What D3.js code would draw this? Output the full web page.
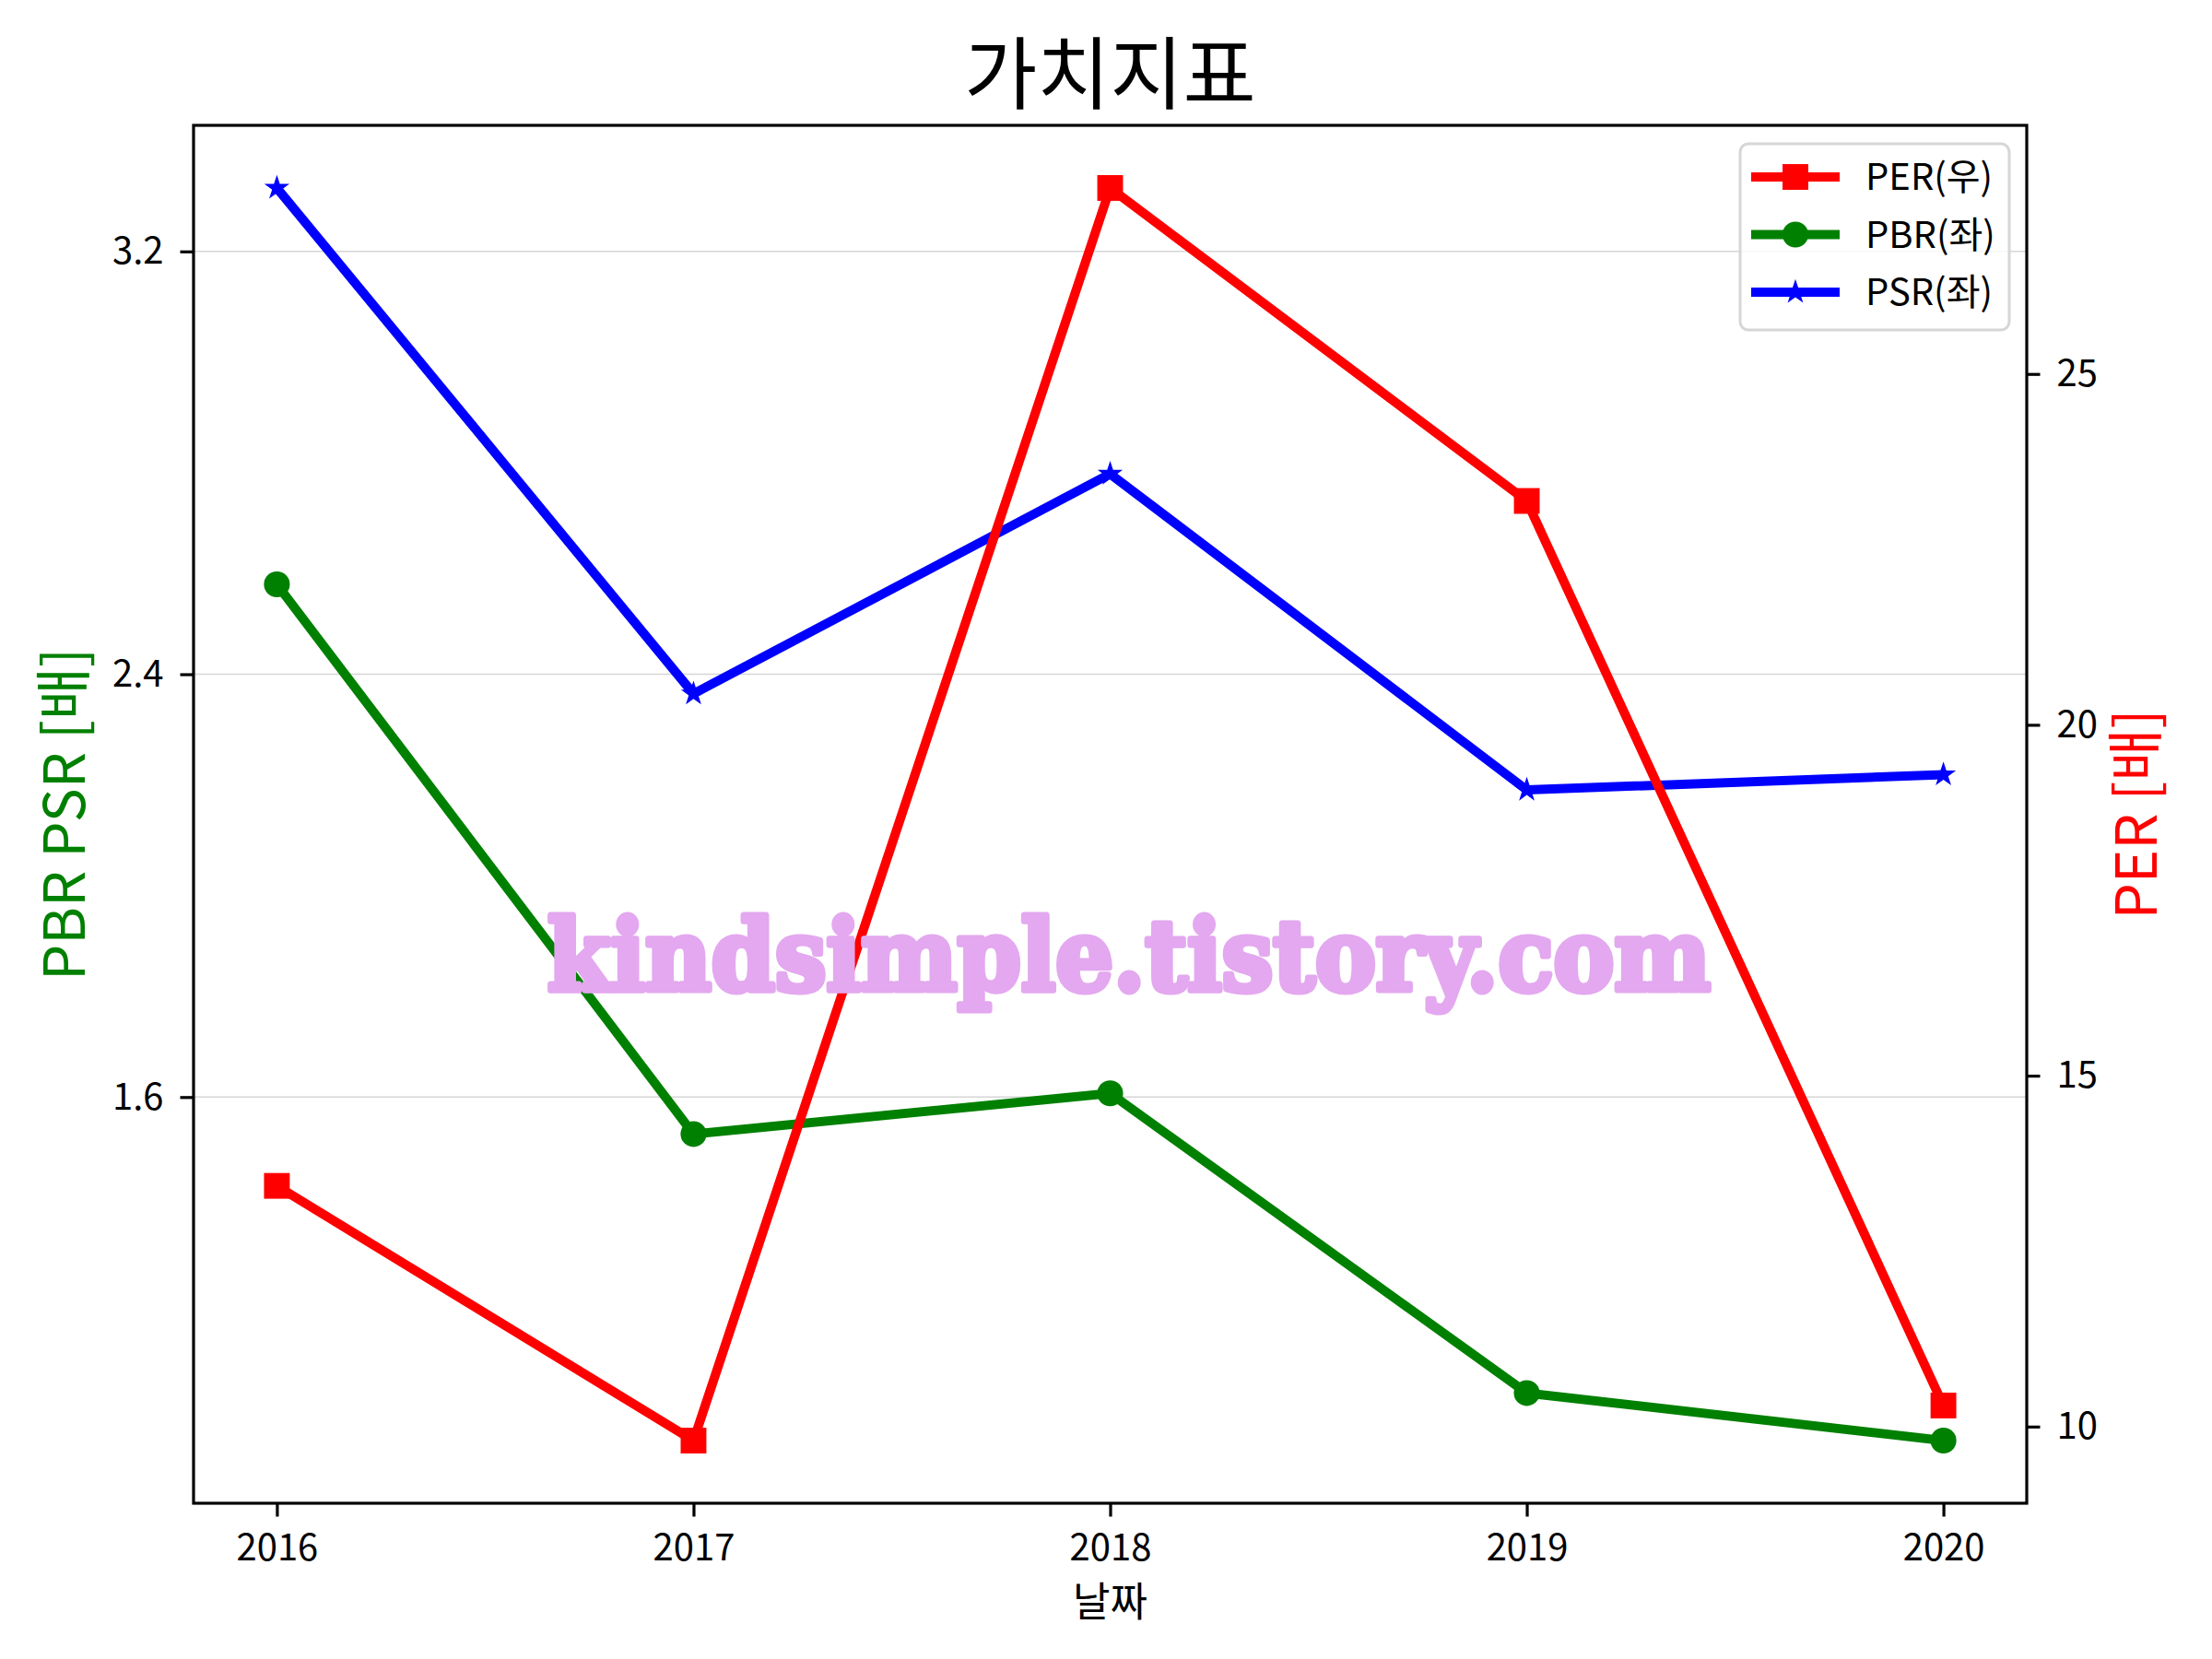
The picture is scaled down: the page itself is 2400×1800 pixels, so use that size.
<!DOCTYPE html>
<html>
<head>
<meta charset="utf-8">
<script src="https://cdn.jsdelivr.net/npm/d3@7"></script>
<style>
  body { margin: 0; background: #fff; }
  svg text { font-family: "Noto Sans CJK KR", "Noto Sans", sans-serif; }
</style>
</head>
<body>
<svg id="chart"></svg>
<script>
// Data
const years = [2016, 2017, 2018, 2019, 2020];
const per = [13.43, 9.8, 27.65, 23.19, 10.3];
const pbr = [2.57, 1.53, 1.607, 1.04, 0.95];
const psr = [3.32, 2.363, 2.779, 2.181, 2.21];
const leftTicks = [1.6, 2.4, 3.2];
const rightTicks = [10, 15, 20, 25];

const width = 2400;
const height = 1800;
const margin = { left: 210, right: 201, top: 136, bottom: 169 };
const x0 = margin.left, x1 = width - margin.right;
const y0 = height - margin.bottom, y1 = margin.top;

const svg = d3.select("#chart")
  .attr("width", width)
  .attr("height", height);

svg.append("rect").attr("width", width).attr("height", height).attr("fill", "#fff");

// Scales (matplotlib-style 5% margins)
function pad(ext, f) {
  const r = ext[1] - ext[0];
  return [ext[0] - r * f, ext[1] + r * f];
}
const x = d3.scaleLinear().domain(pad(d3.extent(years), 0.05)).range([x0, x1]);
const yL = d3.scaleLinear().domain(pad(d3.extent(pbr.concat(psr)), 0.05)).range([y0, y1]);
const yR = d3.scaleLinear().domain(pad(d3.extent(per), 0.05)).range([y0, y1]);

// Grid (left axis only)
svg.append("g")
  .selectAll("line")
  .data(leftTicks)
  .join("line")
  .attr("x1", x0).attr("x2", x1)
  .attr("y1", d => yL(d)).attr("y2", d => yL(d))
  .attr("stroke", "#d6d6d6")
  .attr("stroke-width", 1.6);

const lw = 10;

function drawSeries(values, yScale, color, symbol, size) {
  const line = d3.line().x((d, i) => x(years[i])).y(d => yScale(d));
  svg.append("path")
    .datum(values)
    .attr("d", line)
    .attr("fill", "none")
    .attr("stroke", color)
    .attr("stroke-width", lw)
    .attr("stroke-linejoin", "round");
  svg.append("g")
    .selectAll("path")
    .data(values)
    .join("path")
    .attr("transform", (d, i) => `translate(${x(years[i])},${yScale(d)})`)
    .attr("d", d3.symbol(symbol, size))
    .attr("fill", color);
}

const series = [
  { name: "PER(우)", color: "red", symbol: d3.symbolSquare, size: 780 },
  { name: "PBR(좌)", color: "green", symbol: d3.symbolCircle, size: 620 },
  { name: "PSR(좌)", color: "blue", symbol: d3.symbolStar, size: 230 }
];

drawSeries(pbr, yL, "green", d3.symbolCircle, 620);
drawSeries(psr, yL, "blue", d3.symbolStar, 230);
drawSeries(per, yR, "red", d3.symbolSquare, 780);

// Axes
const xAxis = svg.append("g")
  .attr("transform", `translate(0,${y0})`)
  .call(d3.axisBottom(x).tickValues(years).tickFormat(d3.format("d")).tickSize(14.5).tickSizeOuter(0));
xAxis.selectAll("text").attr("y", 62).attr("dy", 0);

const leftAxis = svg.append("g")
  .attr("transform", `translate(${x0},0)`)
  .call(d3.axisLeft(yL).tickValues(leftTicks).tickFormat(d3.format(".1f")).tickSize(14.5).tickPadding(18).tickSizeOuter(0));

const rightAxis = svg.append("g")
  .attr("transform", `translate(${x1},0)`)
  .call(d3.axisRight(yR).tickValues(rightTicks).tickSize(14.5).tickPadding(18).tickSizeOuter(0));

[xAxis, leftAxis, rightAxis].forEach(g => {
  g.select(".domain").remove();
  g.selectAll("line").attr("stroke", "#000").attr("stroke-width", 3.2);
  g.selectAll("text").attr("font-size", 40).attr("fill", "#000")
    .style("font-family", "'Noto Sans CJK KR', sans-serif");
});

// Frame
svg.append("rect")
  .attr("x", x0).attr("y", y1)
  .attr("width", x1 - x0).attr("height", y0 - y1)
  .attr("fill", "none")
  .attr("stroke", "#000")
  .attr("stroke-width", 3.2);

// Labels
svg.append("text")
  .attr("x", (x0 + x1) / 2).attr("y", 112)
  .attr("text-anchor", "middle")
  .attr("font-size", 86)
  .text("가치지표");

svg.append("text")
  .attr("x", (x0 + x1) / 2).attr("y", 1754)
  .attr("text-anchor", "middle")
  .attr("font-size", 44)
  .text("날짜");

svg.append("text")
  .attr("transform", `translate(92,${(y0 + y1) / 2}) rotate(-90)`)
  .attr("text-anchor", "middle")
  .attr("font-size", 62)
  .attr("fill", "green")
  .text("PBR PSR [배]");

svg.append("text")
  .attr("transform", `translate(2340,${(y0 + y1) / 2}) rotate(-90)`)
  .attr("text-anchor", "middle")
  .attr("font-size", 62)
  .attr("fill", "red")
  .text("PER [배]");

// Legend
const legend = svg.append("g").attr("transform", "translate(1888,156)");
legend.append("rect")
  .attr("width", 292).attr("height", 202)
  .attr("rx", 9)
  .attr("fill", "#fff").attr("fill-opacity", 0.8)
  .attr("stroke", "#d6d6d6").attr("stroke-width", 3);

series.forEach((s, i) => {
  const cy = 36 + i * 62.5;
  legend.append("line")
    .attr("x1", 12).attr("x2", 108)
    .attr("y1", cy).attr("y2", cy)
    .attr("stroke", s.color).attr("stroke-width", lw);
  legend.append("path")
    .attr("transform", `translate(60,${cy})`)
    .attr("d", d3.symbol(s.symbol, s.size))
    .attr("fill", s.color);
  legend.append("text")
    .attr("x", 136).attr("y", cy + 14)
    .attr("font-size", 40)
    .text(s.name);
});

// Watermark
svg.append("text")
  .attr("x", 594).attr("y", 1074)
  .attr("textLength", 1262)
  .attr("lengthAdjust", "spacingAndGlyphs")
  .attr("font-size", 106)
  .attr("font-weight", "bold")
  .attr("fill", "#e3a8ef")
  .attr("stroke", "#e3a8ef")
  .attr("stroke-width", 7)
  .attr("stroke-linejoin", "round")
  .style("font-family", "'DejaVu Serif', serif")
  .text("kindsimple.tistory.com");
</script>
</body>
</html>
